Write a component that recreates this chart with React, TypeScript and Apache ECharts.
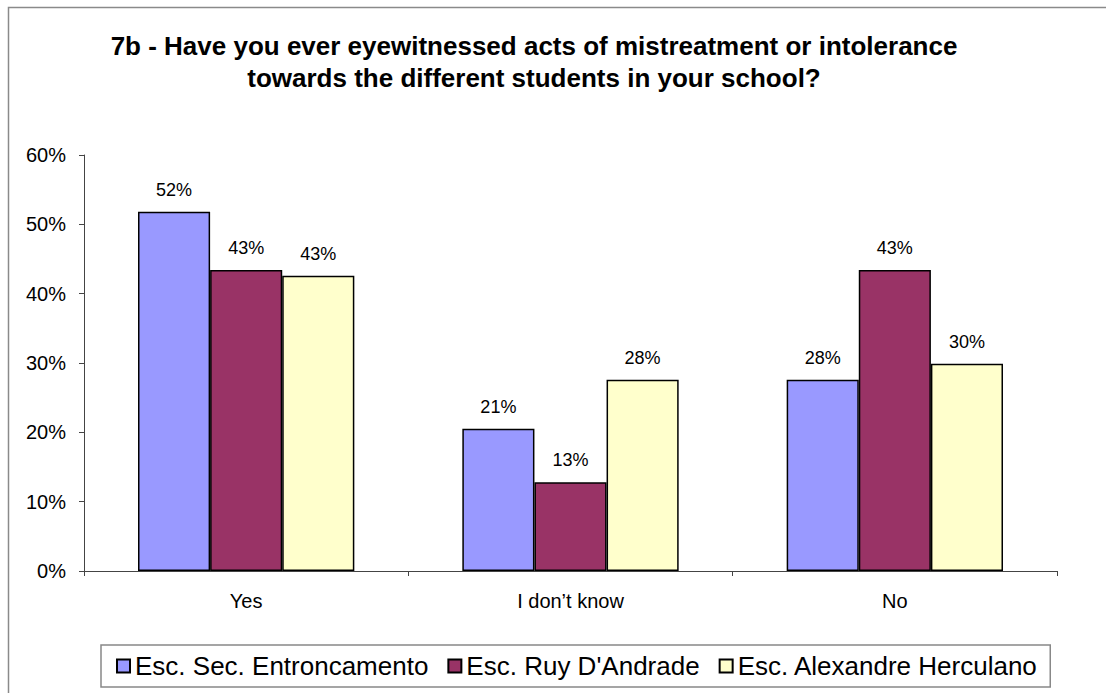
import React, { useEffect, useRef } from "react";
import * as echarts from "echarts";

const categories = ["Yes", "I don\u2019t know", "No"];
const seriesNames = ["Esc. Sec. Entroncamento", "Esc. Ruy D'Andrade", "Esc. Alexandre Herculano"];
const entroncamento = [51.8, 20.5, 27.6];
const ruyDAndrade = [43.4, 12.8, 43.4];
const herculano = [42.6, 27.6, 29.9];
const colors = ["#9999FF", "#993366", "#FFFFCC"];
const titleText = "7b - Have you ever eyewitnessed acts of mistreatment or intolerance\ntowards the different students in your school?";

export default function App() {
  const ref = useRef<HTMLDivElement>(null);
  useEffect(() => {
    document.body.style.margin = "0";
    const chart = echarts.init(ref.current!, null, { renderer: "svg" });
    const values = [entroncamento, ruyDAndrade, herculano];
    const font = "'Liberation Sans', Arial, sans-serif";
    chart.setOption({
      animation: false,
      backgroundColor: "#fff",
      textStyle: { fontFamily: font },
      title: {
        text: titleText,
        left: 529,
        textAlign: "center",
        top: 25,
        textStyle: { fontSize: 26, fontWeight: "bold", color: "#000", lineHeight: 32, fontFamily: font },
      },
      graphic: [
        {
          type: "rect",
          shape: { x: 8.5, y: 7.5, width: 1200, height: 800 },
          style: { fill: "none", stroke: "#8a8a8a", lineWidth: 1.5 },
          silent: true,
        },
      ],
      grid: { left: 84, top: 155, right: 49, bottom: 122, containLabel: false },
      xAxis: {
        type: "category",
        data: categories,
        axisLine: { lineStyle: { color: "#444", width: 1 } },
        axisTick: { show: true, length: 5, alignWithLabel: false, lineStyle: { color: "#444" } },
        axisLabel: { fontSize: 20, color: "#000", margin: 20, fontFamily: font },
      },
      yAxis: {
        type: "value",
        min: 0,
        max: 60,
        interval: 10,
        axisLine: { show: true, lineStyle: { color: "#444", width: 1 } },
        axisTick: { show: true, length: 5, lineStyle: { color: "#444" } },
        splitLine: { show: false },
        axisLabel: { fontSize: 20, color: "#000", margin: 18, formatter: "{value}%", fontFamily: font },
      },
      legend: {
        left: 101,
        top: 645,
        padding: [8, 12, 8, 15],
        borderColor: "#888",
        borderWidth: 1.5,
        itemWidth: 13,
        itemHeight: 13,
        itemGap: 19,
        icon: "rect",
        textStyle: { fontSize: 26, color: "#000", padding: [0, 0, 0, 0], fontFamily: font },
        data: seriesNames,
      },
      series: seriesNames.map((name, i) => ({
        name,
        type: "bar",
        data: values[i],
        barGap: "0%",
        barCategoryGap: "33.3%",
        itemStyle: { color: colors[i], borderColor: "#000", borderWidth: 1.5 },
        label: {
          show: true,
          position: "top",
          distance: 13,
          fontSize: 18,
          color: "#000",
          fontFamily: font,
          formatter: (p: any) => Math.round(p.value) + "%",
        },
      })),
    });
    return () => chart.dispose();
  }, []);
  return <div ref={ref} style={{ position: "fixed", left: 0, top: 0, width: 1106, height: 693 }} />;
}
